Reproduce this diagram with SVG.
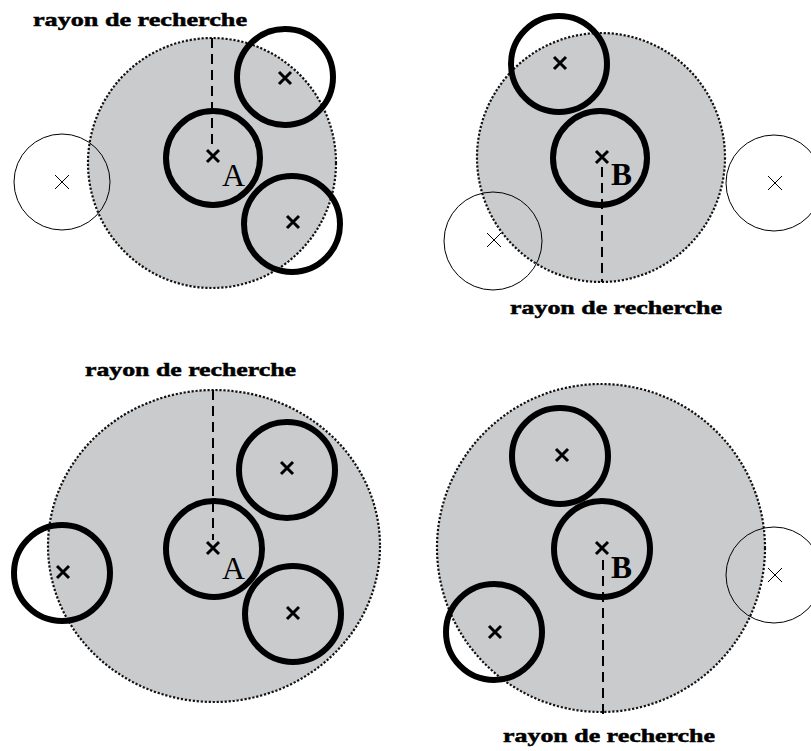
<svg xmlns="http://www.w3.org/2000/svg" width="811" height="751" viewBox="0 0 811 751">
<style>
.zone{fill:#c9cbcd;stroke:#111;stroke-width:2.2;stroke-dasharray:2.2 1.8}
.thick{fill:none;stroke:#000;stroke-width:6}
.thin{fill:none;stroke:#000;stroke-width:1}
.xb{stroke:#000;stroke-width:3;fill:none}
.xt{stroke:#000;stroke-width:1;fill:none}
.dash{stroke:#000;stroke-width:2;stroke-dasharray:10 6;fill:none}
.lbl{font-family:'Liberation Serif','Times New Roman',Times,serif;font-weight:bold;font-size:19px;fill:#000;stroke:#000;stroke-width:0.5}
.pt{font-family:'Liberation Serif','Times New Roman',Times,serif;font-size:31px;fill:#000}
</style>
<defs>
<path id="xb" class="xb" d="M-6,-6L6,6M6,-6L-6,6"/>
<path id="xt" class="xt" d="M-7,-7L7,7M7,-7L-7,7"/>
</defs>
<rect width="811" height="751" fill="#fff"/>

<g id="panel1">
<ellipse class="zone" cx="212" cy="163" rx="124" ry="125"/>
<g id="p1-thin-left"><circle class="thin" cx="62" cy="182" r="48"/><use href="#xt" x="62" y="182"/></g>
<g id="p1-A"><circle class="thick" cx="213" cy="158" r="47"/><use href="#xb" x="213" y="156"/><text class="pt" x="222" y="186" textLength="23" lengthAdjust="spacingAndGlyphs">A</text></g>
<g id="p1-tr"><circle class="thick" cx="285" cy="77" r="48"/><use href="#xb" x="285" y="78"/></g>
<g id="p1-br"><circle class="thick" cx="292" cy="224" r="48"/><use href="#xb" x="293" y="222"/></g>
<text class="lbl" x="33" y="26" textLength="214" lengthAdjust="spacingAndGlyphs">rayon de recherche</text>
</g>

<g id="panel2">
<ellipse class="zone" cx="601" cy="157.5" rx="124" ry="124.5"/>
<g id="p2-top"><circle class="thick" cx="559" cy="64" r="48"/><use href="#xb" x="560" y="63"/></g>
<g id="p2-B"><circle class="thick" cx="600" cy="158" r="47"/><use href="#xb" x="602" y="157"/><text class="pt" font-weight="bold" x="611" y="185" textLength="21" lengthAdjust="spacingAndGlyphs">B</text></g>
<g id="p2-thin-bl"><circle class="thin" cx="493" cy="241" r="49"/><use href="#xt" x="494" y="240"/></g>
<g id="p2-thin-r"><circle class="thin" cx="774" cy="183" r="48"/><use href="#xt" x="775" y="183"/></g>
<text class="lbl" x="510" y="314" textLength="212" lengthAdjust="spacingAndGlyphs">rayon de recherche</text>
</g>

<g id="panel3">
<ellipse class="zone" cx="214" cy="546" rx="166" ry="156"/>
<g id="p3-A"><circle class="thick" cx="214" cy="549" r="48"/><use href="#xb" x="213" y="548"/><text class="pt" x="222" y="579" textLength="23" lengthAdjust="spacingAndGlyphs">A</text></g>
<g id="p3-tr"><circle class="thick" cx="287" cy="470" r="48"/><use href="#xb" x="287" y="468"/></g>
<g id="p3-br"><circle class="thick" cx="293" cy="614" r="48"/><use href="#xb" x="293" y="613"/></g>
<g id="p3-left"><circle class="thick" cx="62" cy="573" r="48"/><use href="#xb" x="63" y="572"/></g>
<text class="lbl" x="85" y="376" textLength="211" lengthAdjust="spacingAndGlyphs">rayon de recherche</text>
</g>

<g id="panel4">
<ellipse class="zone" cx="601" cy="548" rx="164" ry="164"/>
<g id="p4-top"><circle class="thick" cx="560" cy="456" r="48"/><use href="#xb" x="562" y="455"/></g>
<g id="p4-B"><circle class="thick" cx="602" cy="549" r="48"/><use href="#xb" x="602" y="548"/><text class="pt" font-weight="bold" x="611" y="578" textLength="21" lengthAdjust="spacingAndGlyphs">B</text></g>
<g id="p4-bl"><circle class="thick" cx="494" cy="632" r="48"/><use href="#xb" x="495" y="632"/></g>
<g id="p4-thin-r"><circle class="thin" cx="774" cy="575" r="48"/><use href="#xt" x="775" y="575"/></g>
<text class="lbl" x="503" y="742" textLength="212" lengthAdjust="spacingAndGlyphs">rayon de recherche</text>
</g>

<g id="connectors">
<line class="dash" x1="212" y1="38" x2="212" y2="150"/>
<line class="dash" x1="602" y1="167" x2="602" y2="282"/>
<line class="dash" x1="213" y1="390" x2="213" y2="540"/>
<line class="dash" x1="603" y1="560" x2="603" y2="715"/>
</g>
</svg>
